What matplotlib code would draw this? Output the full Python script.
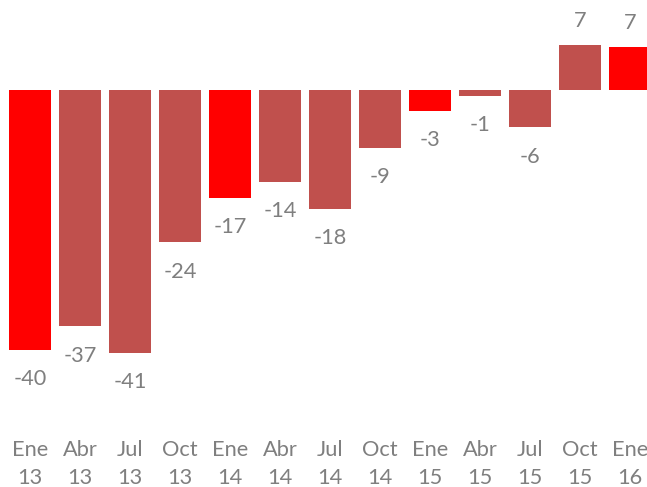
import matplotlib
matplotlib.use("Agg")
import matplotlib.pyplot as plt

months = ["Ene", "Abr", "Jul", "Oct", "Ene", "Abr", "Jul", "Oct", "Ene", "Abr", "Jul", "Oct", "Ene"]
years = ["13", "13", "13", "13", "14", "14", "14", "14", "15", "15", "15", "15", "16"]
values = [-40.3, -36.6, -40.7, -23.6, -16.7, -14.2, -18.4, -9.0, -3.2, -0.9, -5.8, 7.0, 6.7]

RED = "#FF0000"
DARK = "#C0504D"
GREY = "#7F7F7F"
colors = [RED if m == "Ene" else DARK for m in months]

plt.rcParams['font.family'] = ['Lato', 'DejaVu Sans']

W, H = 647, 487
fig = plt.figure(figsize=(W / 100, H / 100), dpi=100)
ax_bottom_px = 430
ax = fig.add_axes([0, 1 - ax_bottom_px / H, 1, ax_bottom_px / H])

scale = 6.45  # px per unit
zero_px = 90
ax.set_ylim((zero_px - ax_bottom_px) / scale, zero_px / scale)
ax.set_xlim(-30 / 50, (W - 30) / 50)

x = list(range(len(values)))
ax.bar(x, values, width=0.84, color=colors, linewidth=0)

for xi, v in zip(x, values):
    if v < 0:
        ax.annotate(f"{v:.0f}", (xi, v), xytext=(0, -14), textcoords="offset points",
                    ha="center", va="top", fontsize=15.7, color=GREY)
    else:
        ax.annotate(f"{v:.0f}", (xi, v), xytext=(0, 10), textcoords="offset points",
                    ha="center", va="bottom", fontsize=15.7, color=GREY)

ax.set_xticks(x)
ax.set_xticklabels([f"{m}\n{y}" for m, y in zip(months, years)], fontsize=15.7,
                   color=GREY, linespacing=1.5)
ax.tick_params(axis="x", length=0, pad=7)
ax.set_yticks([])
for s in ax.spines.values():
    s.set_visible(False)

fig.savefig("out.png", dpi=100)
